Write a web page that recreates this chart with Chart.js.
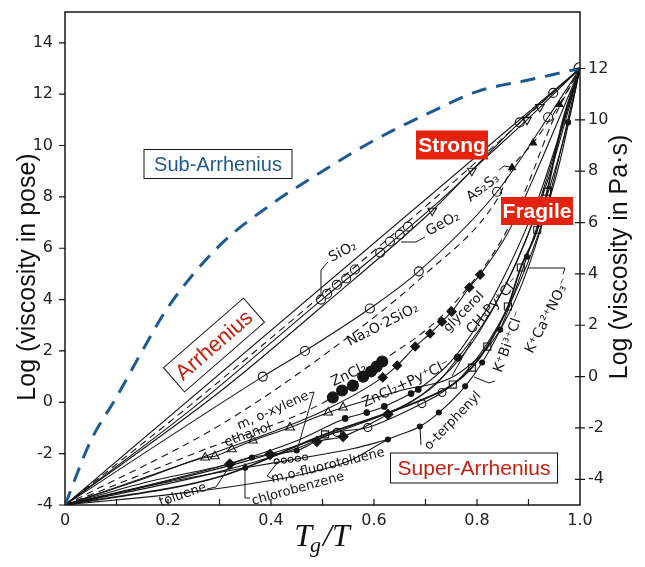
<!DOCTYPE html>
<html>
<head>
<meta charset="utf-8">
<script src="https://cdn.jsdelivr.net/npm/chart.js@4.4.0/dist/chart.umd.min.js"></script>
<style>
  html, body { margin: 0; padding: 0; background: #fff; }
</style>
</head>
<body>
<canvas id="angell" width="645" height="567"></canvas>
<script>
// axis ticks
const xTicks = [0, 0.2, 0.4, 0.6, 0.8, 1.0];
const poseTicks = [-4, -2, 0, 2, 4, 6, 8, 10, 12, 14];
const pasTicks = [-4, -2, 0, 2, 4, 6, 8, 10, 12];

// blue sub-Arrhenius guide
const subArrX = [0, 0.05, 0.1, 0.15, 0.2, 0.3, 0.4, 0.5, 0.6, 0.7, 0.8, 0.9, 1.0];
const subArrY = [-4, -1.5, 0.2, 2.0, 3.7, 6.1, 7.7, 9.0, 10.2, 11.2, 12.1, 12.55, 13];

// strong liquids
const arrX = [0, 1];
const arrY = [-4, 13];
const dashAX = [0, 0.25, 0.5, 0.75, 1];
const dashAY = [-4, 0.0, 4.2, 8.5, 13];
const sio2LineX = [0, 0.25, 0.5, 0.62, 0.75, 0.883, 1];
const sio2LineY = [-4, -0.2, 4.02, 6.0, 8.25, 10.9, 13];
const sio2X = [0.497, 0.509, 0.528, 0.546, 0.563];
const sio2Y = [4.0, 4.23, 4.58, 4.82, 5.17];
const geo2X = [0.612, 0.631, 0.650, 0.666, 0.883, 0.948];
const geo2Y = [5.83, 6.26, 6.53, 6.84, 10.9, 12.05];
const triLineX = [0, 0.3, 0.5, 0.713, 0.79, 0.897, 1];
const triLineY = [-4, 0.4, 3.75, 7.46, 9.02, 11.0, 13];
const triX = [0.713, 0.79, 0.897, 0.922];
const triY = [7.46, 9.02, 11.0, 11.5];
const na2oX = [0, 0.384, 0.466, 0.592, 0.687, 0.839, 0.938, 1];
const na2oY = [-4, 1.0, 2.0, 3.65, 5.1, 8.2, 11.1, 13];
const as2s3X = [0, 0.3, 0.5, 0.7, 0.839, 0.868, 0.909, 0.96, 1];
const as2s3Y = [-4, -0.9, 1.8, 5.0, 7.9, 9.14, 10.1, 11.6, 13];
const as2s3MarkX = [0.868, 0.909, 0.96];
const as2s3MarkY = [9.14, 10.1, 11.6];

// intermediate / fragile liquids
const zncl2X = [0, 0.25, 0.52, 0.538, 0.559, 0.579, 0.594, 0.605, 0.616, 0.7, 0.761, 0.85, 0.897, 0.948, 1];
const zncl2Y = [-4, -2.0, 0.19, 0.46, 0.65, 1.0, 1.2, 1.39, 1.59, 2.8, 3.97, 6.4, 8.4, 11.0, 13];
const zncl2MarkX = [0.52, 0.538, 0.559, 0.579, 0.594, 0.605, 0.616];
const zncl2MarkY = [0.19, 0.46, 0.65, 1.0, 1.2, 1.39, 1.59];
const glycX = [0, 0.3, 0.5, 0.617, 0.645, 0.68, 0.709, 0.732, 0.751, 0.785, 0.806, 0.86, 0.92, 1];
const glycY = [-4, -1.9, -0.35, 0.97, 1.43, 2.17, 2.68, 3.14, 3.53, 4.47, 4.97, 6.6, 9.2, 13];
const glycMarkX = [0.617, 0.645, 0.68, 0.709, 0.732, 0.751, 0.785, 0.806];
const glycMarkY = [0.97, 1.43, 2.17, 2.68, 3.14, 3.53, 4.47, 4.97];
const pyX = [0, 0.3, 0.45, 0.544, 0.586, 0.62, 0.672, 0.686, 0.75, 0.8, 0.86, 0.92, 1];
const pyY = [-4, -2.5, -1.5, -0.63, -0.4, -0.16, 0.34, 0.5, 1.6, 3.0, 5.2, 8.0, 13];
const pyMarkX = [0.544, 0.586, 0.62, 0.672, 0.686];
const pyMarkY = [-0.63, -0.4, -0.16, 0.34, 0.5];
const ch3pyX = [0, 0.35, 0.55, 0.65, 0.72, 0.763, 0.82, 0.88, 0.94, 1];
const ch3pyY = [-4, -2.3, -1.0, -0.2, 0.7, 1.74, 3.3, 5.6, 8.8, 13];
const kbiX = [0, 0.3, 0.45, 0.528, 0.588, 0.693, 0.732, 0.77, 0.82, 0.87, 0.92, 0.96, 1];
const kbiY = [-4, -2.7, -1.8, -1.17, -0.98, -0.05, 0.38, 1.0, 2.3, 4.1, 6.6, 9.3, 13];
const kbiMarkX = [0.528, 0.588, 0.693, 0.732];
const kbiMarkY = [-1.17, -0.98, -0.05, 0.38];
const kcaX = [0, 0.3, 0.505, 0.6, 0.7, 0.753, 0.79, 0.82, 0.86, 0.885, 0.917, 0.936, 0.967, 1];
const kcaY = [-4, -2.9, -1.25, -0.6, 0.15, 0.69, 1.35, 2.17, 3.73, 5.25, 6.72, 8.2, 11.0, 13];
const kcaMarkX = [0.505, 0.753, 0.79, 0.82, 0.86, 0.885, 0.917, 0.936];
const kcaMarkY = [-1.25, 0.69, 1.35, 2.17, 3.73, 5.25, 6.72, 8.2];
const otpX = [0, 0.262, 0.45, 0.55, 0.627, 0.689, 0.726, 0.777, 0.81, 0.845, 0.897, 0.94, 0.977, 1];
const otpY = [-4, -3.45, -2.85, -2.3, -1.45, -0.94, -0.4, 0.62, 1.55, 2.83, 5.67, 8.3, 10.9, 13];
const otpMarkX = [0.627, 0.689, 0.726, 0.777, 0.81, 0.845, 0.897, 0.94, 0.977];
const otpMarkY = [-1.45, -0.94, -0.4, 0.62, 1.55, 2.83, 5.67, 8.3, 10.9];
const ethX = [0, 0.15, 0.272, 0.291, 0.324, 0.365, 0.437, 0.511, 0.54, 0.65, 0.767, 0.85, 0.92, 1];
const ethY = [-4, -3.0, -2.15, -2.1, -1.83, -1.49, -0.98, -0.4, -0.2, 0.45, 1.16, 3.0, 6.5, 13];
const ethMarkX = [0.272, 0.291, 0.324, 0.365, 0.437, 0.511, 0.54];
const ethMarkY = [-2.15, -2.1, -1.83, -1.49, -0.98, -0.4, -0.2];
const tolX = [0, 0.15, 0.32, 0.363, 0.398, 0.45, 0.489, 0.54, 0.627, 0.7, 0.8, 0.9, 1];
const tolY = [-4, -3.15, -2.4, -2.15, -2.03, -1.88, -1.53, -1.33, -0.47, 0.4, 2.6, 6.6, 13];
const tolDiamX = [0.32, 0.398, 0.489, 0.54, 0.627];
const tolDiamY = [-2.4, -2.03, -1.53, -1.33, -0.47];
const tolDotX = [0.363, 0.45, 0.35];
const tolDotY = [-2.15, -1.88, -2.55];
const fluX = [0, 0.2, 0.35, 0.466, 0.56, 0.627];
const fluY = [-4, -3.1, -2.55, -2.15, -1.8, -1.45];
const fluMarkX = [0.411, 0.425, 0.438, 0.452, 0.466];
const fluMarkY = [-2.3, -2.27, -2.24, -2.2, -2.15];
const endX = [1];
const endY = [13];

const pts = (xs, ys) => xs.map((x, i) => ({ x: x, y: ys[i] }));

function curve(xs, ys, extra) {
    return Object.assign({
        type: 'line', data: pts(xs, ys), borderColor: '#161616', borderWidth: 1.1,
        pointRadius: 0, fill: false, cubicInterpolationMode: 'monotone'
    }, extra || {});
}

function marks(xs, ys, style, r, filled, extra) {
    return Object.assign({
        type: 'scatter', data: pts(xs, ys), showLine: false, pointStyle: style,
        pointRadius: r, borderColor: '#161616', backgroundColor: filled ? '#161616' : '#fff',
        borderWidth: 1.1
    }, extra || {});
}

const dash = [7, 5];

const datasets = [
    curve(subArrX, subArrY, { borderColor: '#1d5a92', borderWidth: 3, borderDash: [15, 10] }),
    curve(arrX, arrY),
    curve(dashAX, dashAY, { borderDash: dash }),
    curve(sio2LineX, sio2LineY),
    curve(triLineX, triLineY),
    curve(na2oX, na2oY),
    curve(as2s3X, as2s3Y, { borderDash: dash }),
    curve(zncl2X, zncl2Y, { borderDash: dash }),
    curve(glycX, glycY),
    curve(pyX, pyY),
    curve(ch3pyX, ch3pyY),
    curve(kbiX, kbiY),
    curve(kcaX, kcaY, { borderWidth: 1.8 }),
    curve(otpX, otpY),
    curve(ethX, ethY),
    curve(tolX, tolY),
    curve(fluX, fluY),
    marks(sio2X, sio2Y, 'circle', 4.5, false),
    marks(geo2X, geo2Y, 'circle', 4.5, false),
    marks(triX, triY, 'triangle', 5, false, { rotation: 180 }),
    marks(na2oX.slice(1, -1), na2oY.slice(1, -1), 'circle', 4.5, false),
    marks(as2s3MarkX, as2s3MarkY, 'triangle', 4, true),
    marks(zncl2MarkX, zncl2MarkY, 'circle', 5.5, true),
    marks(glycMarkX, glycMarkY, 'rectRot', 4.5, true),
    marks(pyMarkX, pyMarkY, 'circle', 2.8, true),
    marks([0.763], [1.74], 'circle', 3.5, true),
    marks(kbiMarkX, kbiMarkY, 'circle', 4, false),
    marks(kcaMarkX, kcaMarkY, 'rect', 5, false),
    marks(otpMarkX, otpMarkY, 'circle', 2.5, true),
    marks(ethMarkX, ethMarkY, 'triangle', 5, false),
    marks(tolDiamX, tolDiamY, 'rectRot', 5, true),
    marks(tolDotX, tolDotY, 'circle', 2.5, true),
    marks(fluMarkX, fluMarkY, 'circle', 2.5, false),
    marks(endX, endY, 'circle', 6, false)
];

function say(ctx, text, x, y, deg, size, color, font) {
    ctx.save();
    ctx.translate(x, y);
    ctx.rotate(deg * Math.PI / 180);
    ctx.font = size + 'px ' + (font || '"DejaVu Sans"');
    ctx.fillStyle = color || '#161616';
    ctx.textAlign = 'center';
    ctx.textBaseline = 'middle';
    ctx.fillText(text, 0, 0);
    ctx.restore();
}

function leader(ctx, p) {
    ctx.save();
    ctx.strokeStyle = '#161616';
    ctx.lineWidth = 1;
    ctx.beginPath();
    ctx.moveTo(p[0][0], p[0][1]);
    for (let i = 1; i < p.length; i++) ctx.lineTo(p[i][0], p[i][1]);
    ctx.stroke();
    ctx.restore();
}

function tag(ctx, text, cx, cy, w, h, deg, o) {
    ctx.save();
    ctx.translate(cx, cy);
    ctx.rotate(deg * Math.PI / 180);
    if (o.fill) {
        ctx.fillStyle = o.fill;
        ctx.fillRect(-w / 2, -h / 2, w, h);
    } else {
        ctx.fillStyle = '#fff';
        ctx.fillRect(-w / 2, -h / 2, w, h);
        ctx.strokeStyle = '#111';
        ctx.lineWidth = 1;
        ctx.strokeRect(-w / 2, -h / 2, w, h);
    }
    ctx.font = o.font;
    ctx.fillStyle = o.color;
    ctx.textAlign = 'center';
    ctx.textBaseline = 'middle';
    ctx.fillText(text, 0, 1);
    ctx.restore();
}

const decor = {
    id: 'decor',
    afterDatasetsDraw(chart) {
        const ctx = chart.ctx;
        const a = chart.chartArea;
        const sx = chart.scales.x, sy = chart.scales.y, sy2 = chart.scales.y2;

        // frame + tick marks
        ctx.save();
        ctx.strokeStyle = '#161616';
        ctx.lineWidth = 1.5;
        ctx.strokeRect(a.left, a.top, a.right - a.left, a.bottom - a.top);
        ctx.lineWidth = 1.2;
        ctx.beginPath();
        for (let i = 1; i < 10; i++) {
            const px = sx.getPixelForValue(i / 10);
            ctx.moveTo(px, a.bottom);
            ctx.lineTo(px, a.bottom - 6);
        }
        poseTicks.forEach(v => {
            const py = sy.getPixelForValue(v);
            ctx.moveTo(a.left - 6, py);
            ctx.lineTo(a.left, py);
        });
        pasTicks.forEach(v => {
            const py = sy2.getPixelForValue(v);
            ctx.moveTo(a.right - 5, py);
            ctx.lineTo(a.right + 5, py);
        });
        ctx.stroke();
        ctx.restore();

        // material labels
        const f = 14;
        say(ctx, 'SiO\u2082', 343, 252, -27, f);
        leader(ctx, [[328, 262], [321, 270], [321, 296]]);
        say(ctx, 'GeO\u2082', 443, 224, -28, f);
        leader(ctx, [[425, 237], [416, 242], [401, 242]]);
        say(ctx, 'As\u2082S\u2083', 483, 188, -37, f);
        leader(ctx, [[499, 170], [504, 166], [510, 167]]);
        say(ctx, 'Na\u2082O\u00b72SiO\u2082', 383, 325, -27, f);
        say(ctx, 'ZnCl\u2082', 349, 375, -25, f);
        say(ctx, 'ZnCl\u2082+Py\u207aCl\u207b', 406, 384, -25, f);
        say(ctx, 'glycerol', 464, 312, -45, 13);
        say(ctx, 'CH\u2083Py\u207aCl\u207b', 493, 306, -48, f);
        leader(ctx, [[471, 342], [462, 358], [452, 376]]);
        say(ctx, 'K\u207aBi\u00b3\u207aCl\u207b', 509, 342, -70, f);
        leader(ctx, [[495, 381], [489, 383], [474, 377]]);
        say(ctx, 'K\u207aCa\u00b2\u207aNO\u2083\u207b', 548, 316, -63, f);
        leader(ctx, [[563, 274], [565, 268], [528, 268]]);
        say(ctx, 'o-terphenyl', 453, 421, -46, 13);
        leader(ctx, [[421, 445], [420, 428]]);
        say(ctx, 'm, o-xylene', 273, 411, -24, 13);
        leader(ctx, [[309, 393], [314, 392], [297, 450]]);
        say(ctx, 'ethanol', 248, 435, -20, 13);
        say(ctx, 'm,o-fluorotoluene', 328, 466, -13.5, 13);
        leader(ctx, [[277, 463], [267, 476], [273, 479]]);
        say(ctx, 'chlorobenzene', 298, 489, -15.5, 13);
        leader(ctx, [[250, 498], [245, 498], [245, 463]]);
        say(ctx, 'toluene', 183, 495, -19, 13);
        leader(ctx, [[207, 489], [216, 487], [229, 467]]);

        // regime tags
        tag(ctx, 'Sub-Arrhenius', 218, 164, 148, 29, 0, { font: '20px "Liberation Sans"', color: '#1d5a92' });
        tag(ctx, 'Arrhenius', 214, 345, 106, 32, -41, { font: '22px "Liberation Sans"', color: '#c4200f' });
        tag(ctx, 'Strong', 452, 145, 72, 29, 0, { fill: '#e5230d', font: 'bold 21px "Liberation Sans"', color: '#fff' });
        tag(ctx, 'Fragile', 537, 211, 72, 28, 0, { fill: '#e5230d', font: 'bold 21px "Liberation Sans"', color: '#fff' });
        tag(ctx, 'Super-Arrhenius', 474, 468, 167, 30, 0, { font: '21px "Liberation Sans"', color: '#c4200f' });
    },
    afterDraw(chart) {
        const ctx = chart.ctx;
        // axis titles
        say(ctx, 'Log (viscosity in pose)', 28, 277, -90, 25, '#111', '"Liberation Sans"');
        say(ctx, 'Log (viscosity in Pa\u00b7s)', 620, 257, -90, 25, '#111', '"Liberation Sans"');
        ctx.save();
        ctx.fillStyle = '#111';
        ctx.textBaseline = 'alphabetic';
        ctx.font = 'italic 32px "Liberation Serif"';
        const wT = ctx.measureText('T').width;
        ctx.font = 'italic 22px "Liberation Serif"';
        const wg = ctx.measureText('g').width;
        ctx.font = 'italic 32px "Liberation Serif"';
        const wS = ctx.measureText('/T').width;
        let x0 = 322 - (wT + wg + wS) / 2;
        const base = 546;
        ctx.fillText('T', x0, base);
        ctx.font = 'italic 22px "Liberation Serif"';
        ctx.fillText('g', x0 + wT - 2, base + 6);
        ctx.font = 'italic 32px "Liberation Serif"';
        ctx.fillText('/T', x0 + wT + wg, base);
        ctx.restore();
    }
};

const tickFont = { family: '"DejaVu Sans"', size: 16 };

// keep the plot frame fixed at 65..580 x 12..505
const fitV = s => { s.width = 65; s.paddingTop = 0; s.paddingBottom = 0; };

new Chart(document.getElementById('angell'), {
    type: 'scatter',
    data: { datasets: datasets },
    options: {
        responsive: false,
        animation: false,
        layout: { padding: { top: 12 } },
        plugins: { legend: { display: false }, tooltip: { enabled: false } },
        scales: {
            x: {
                type: 'linear', min: 0, max: 1,
                grid: { display: false, drawTicks: false }, border: { display: false },
                ticks: {
                    font: tickFont, color: '#222', padding: 6, maxRotation: 0, autoSkip: false,
                    callback: v => (v === 0 ? '0' : v.toFixed(1))
                },
                afterBuildTicks: s => { s.ticks = xTicks.map(v => ({ value: v })); },
                afterFit: s => { s.height = 62; s.paddingLeft = 0; s.paddingRight = 0; }
            },
            y: {
                position: 'left', min: -4, max: 15.2,
                grid: { display: false, drawTicks: false }, border: { display: false },
                ticks: { font: tickFont, color: '#222', padding: 12 },
                afterBuildTicks: s => { s.ticks = poseTicks.map(v => ({ value: v })); },
                afterFit: fitV
            },
            y2: {
                position: 'right', min: -5, max: 14.2,
                grid: { display: false, drawTicks: false }, border: { display: false },
                ticks: { font: tickFont, color: '#222', padding: 8 },
                afterBuildTicks: s => { s.ticks = pasTicks.map(v => ({ value: v })); },
                afterFit: fitV
            }
        }
    },
    plugins: [decor]
});
</script>
</body>
</html>
